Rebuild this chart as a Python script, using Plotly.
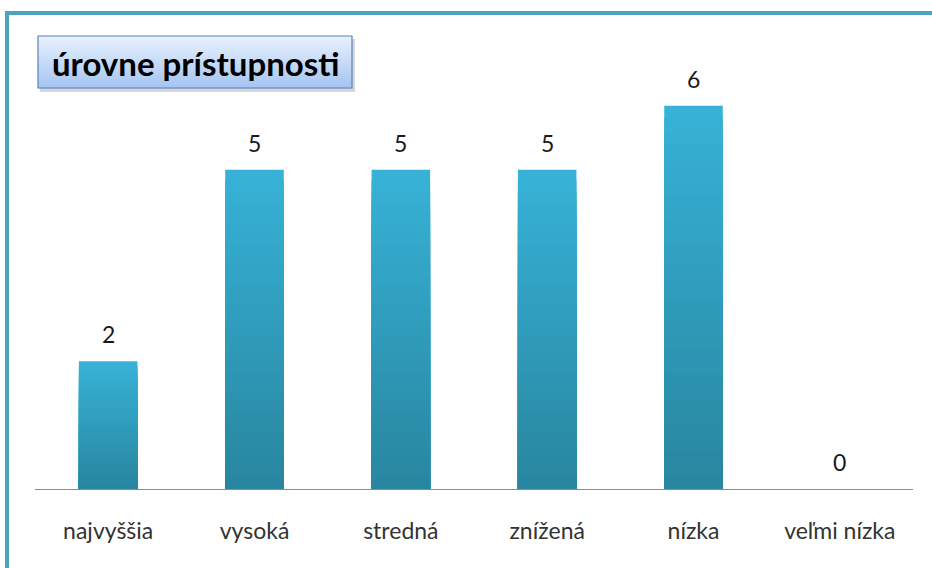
import plotly.graph_objects as go

categories = ["najvyššia", "vysoká", "stredná", "znížená", "nízka", "veľmi nízka"]
values = [2, 5, 5, 5, 6, 0]
title_text = "úrovne prístupnosti"

FONT = "Lato, 'Open Sans', sans-serif"

def lerp(c1, c2, t):
    return "rgb(%d,%d,%d)" % tuple(round(a + (b - a) * t) for a, b in zip(c1, c2))

top_col = (0x37, 0xB2, 0xD6)
bot_col = (0x28, 0x86, 0xA0)

fig = go.Figure()
N = 30
for i in range(N):
    frac = 1 - i / N
    fig.add_trace(go.Bar(
        x=categories,
        y=[v * frac for v in values],
        width=0.40,
        marker=dict(color=lerp(top_col, bot_col, i / (N - 1)), line=dict(width=0)),
        hoverinfo="skip" if i else "x+y",
        showlegend=False,
    ))

# geometry helpers (plot area in pixels: x 35..913, y 42..489)
L, R, T, B = 35, 19, 42, 79
W, H = 932, 568
pw, ph = W - L - R, H - T - B

def px(x):
    return (x - L) / pw

def py(y):
    return (H - B - y) / ph

shapes = []
# frame border (top & left)
shapes.append(dict(type="line", xref="paper", yref="paper", x0=px(5), x1=px(934), y0=py(13), y1=py(13),
                   line=dict(color="#4aa4be", width=4), layer="above"))
shapes.append(dict(type="line", xref="paper", yref="paper", x0=px(7), x1=px(7), y0=py(11), y1=py(570),
                   line=dict(color="#4aa4be", width=4), layer="above"))

# title box shadow
bx0, bx1, by0, by1 = 38, 352, 36, 88
shapes.append(dict(type="rect", xref="paper", yref="paper", x0=px(bx0 + 2), x1=px(bx1 + 3), y0=py(by0 + 3), y1=py(by1 + 4),
                   fillcolor="rgba(0,0,0,0.16)", line=dict(width=0), layer="below"))
# gradient bands
NB = 26
c_top = (0xE8, 0xF1, 0xFE)
c_bot = (0xA6, 0xC5, 0xF0)
for i in range(NB):
    y0 = by0 + (by1 - by0) * i / NB
    y1 = by0 + (by1 - by0) * (i + 1) / NB
    shapes.append(dict(type="rect", xref="paper", yref="paper", x0=px(bx0), x1=px(bx1), y0=py(y0), y1=py(y1 + 0.5),
                       fillcolor=lerp(c_top, c_bot, i / (NB - 1)), line=dict(width=0), layer="below"))
shapes.append(dict(type="rect", xref="paper", yref="paper", x0=px(bx0), x1=px(bx1), y0=py(by0), y1=py(by1),
                   fillcolor="rgba(0,0,0,0)", line=dict(color="#5b82ba", width=1.2), layer="below"))

annotations = [dict(text="<b>" + title_text + "</b>", xref="paper", yref="paper",
                    x=px((bx0 + bx1) / 2), y=py((by0 + by1) / 2 + 1), xanchor="center", yanchor="middle",
                    showarrow=False, font=dict(family=FONT, size=33, color="#000000"))]
for c, v in zip(categories, values):
    annotations.append(dict(x=c, y=v, xref="x", yref="y", text=str(v), showarrow=False,
                            xanchor="center", yanchor="bottom", yshift=11,
                            font=dict(family=FONT, size=23, color="#1a1a1a")))

fig.update_layout(
    width=W, height=H,
    margin=dict(l=L, r=R, t=T, b=B, pad=0),
    paper_bgcolor="white", plot_bgcolor="white",
    barmode="overlay",
    shapes=shapes,
    annotations=annotations,
    xaxis=dict(showline=True, linecolor="#8c8c8c", linewidth=1, ticks="", showgrid=False,
               tickfont=dict(family=FONT, size=23, color="#333333"), ticklabelstandoff=21,
               fixedrange=True),
    yaxis=dict(range=[0, 7], visible=False, showgrid=False, zeroline=False, fixedrange=True),
)

fig.write_html("out.html", post_script="document.body.style.margin='0px';",
               config={"displayModeBar": False})
